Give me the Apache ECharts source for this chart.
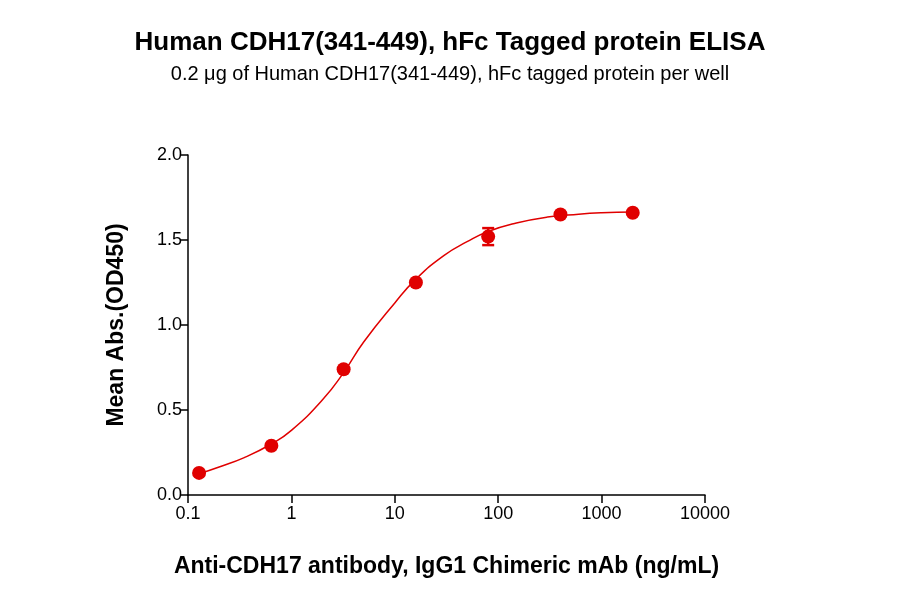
<!doctype html>
<html>
<head>
<meta charset="utf-8"/>
<script src="https://cdn.jsdelivr.net/npm/echarts@6/dist/echarts.min.js"></script>
<style>*{margin:0;padding:0;} #main{width:900px;height:594px;}</style>
</head>
<body>
<div id="main"></div>
<script>
// measured points (ng/mL, OD450)
var conc = [0.128, 0.64, 3.2, 16, 80, 400, 2000];
var od = [0.13, 0.29, 0.74, 1.25, 1.52, 1.65, 1.66];
var errLow = [0.13, 0.29, 0.74, 1.25, 1.47, 1.64, 1.65];
var errHigh = [0.13, 0.29, 0.74, 1.25, 1.57, 1.66, 1.67];
// fitted curve
var curveX = [0.128, 0.2, 0.35, 0.64, 1, 2, 3.2, 5, 10, 16, 30, 50, 80, 150, 300, 600, 1000, 2000];
var curveY = [0.125, 0.165, 0.22, 0.30, 0.38, 0.56, 0.72, 0.90, 1.13, 1.27, 1.41, 1.49, 1.55, 1.60, 1.635, 1.652, 1.66, 1.665];

var chart = echarts.init(document.getElementById('main'));
var ff = 'Arial, "Liberation Sans", sans-serif';
chart.setOption({
  animation: false,
  title: {
    text: 'Human CDH17(341-449), hFc Tagged protein ELISA',
    subtext: '0.2 \u03bcg of Human CDH17(341-449), hFc tagged protein per well',
    left: 'center', top: 25, itemGap: 8,
    textStyle: {fontFamily: ff, fontSize: 26, fontWeight: 'bold', color: '#000'},
    subtextStyle: {fontFamily: ff, fontSize: 20, color: '#000'}
  },
  grid: {left: 188, right: 195, top: 155, bottom: 99},
  xAxis: {
    type: 'log', min: 0.1, max: 10000, logBase: 10,
    name: 'Anti-CDH17 antibody, IgG1 Chimeric mAb (ng/mL)', nameLocation: 'middle', nameGap: 60,
    nameTextStyle: {fontFamily: ff, fontSize: 23, fontWeight: 'bold', color: '#000'},
    axisLine: {lineStyle: {color: '#000', width: 1.5}},
    axisTick: {lineStyle: {color: '#000', width: 1.5}, length: 8},
    axisLabel: {fontFamily: ff, fontSize: 18, color: '#000', margin: 10,
      formatter: function (v) { return v < 1 ? String(v) : String(Math.round(v)); }},
    splitLine: {show: false}
  },
  yAxis: {
    type: 'value', min: 0, max: 2, interval: 0.5,
    name: 'Mean Abs.(OD450)', nameLocation: 'middle', nameGap: 60,
    nameTextStyle: {fontFamily: ff, fontSize: 23, fontWeight: 'bold', color: '#000'},
    axisLine: {show: true, lineStyle: {color: '#000', width: 1.5}},
    axisTick: {show: true, lineStyle: {color: '#000', width: 1.5}, length: 8},
    axisLabel: {fontFamily: ff, fontSize: 18, color: '#000', margin: 6,
      formatter: function (v) { return v.toFixed(1); }},
    splitLine: {show: false}
  },
  series: [
    {type: 'line', smooth: true, symbol: 'none', lineStyle: {color: '#e00000', width: 1.5},
     data: curveX.map(function (x, i) { return [x, curveY[i]]; })},
    {type: 'custom', data: conc.map(function (x, i) { return [x, errLow[i], errHigh[i]]; }),
     renderItem: function (params, api) {
       var lo = api.coord([api.value(0), api.value(1)]);
       var hi = api.coord([api.value(0), api.value(2)]);
       var w = 6, st = {stroke: '#e00000', lineWidth: 2.5};
       return {type: 'group', children: [
         {type: 'line', shape: {x1: lo[0], y1: lo[1], x2: hi[0], y2: hi[1]}, style: st},
         {type: 'line', shape: {x1: lo[0] - w, y1: lo[1], x2: lo[0] + w, y2: lo[1]}, style: st},
         {type: 'line', shape: {x1: hi[0] - w, y1: hi[1], x2: hi[0] + w, y2: hi[1]}, style: st}
       ]};
     }, z: 3},
    {type: 'scatter', symbol: 'circle', symbolSize: 14, itemStyle: {color: '#e00000', opacity: 1},
     data: conc.map(function (x, i) { return [x, od[i]]; }), z: 4}
  ]
});
</script>
</body>
</html>
